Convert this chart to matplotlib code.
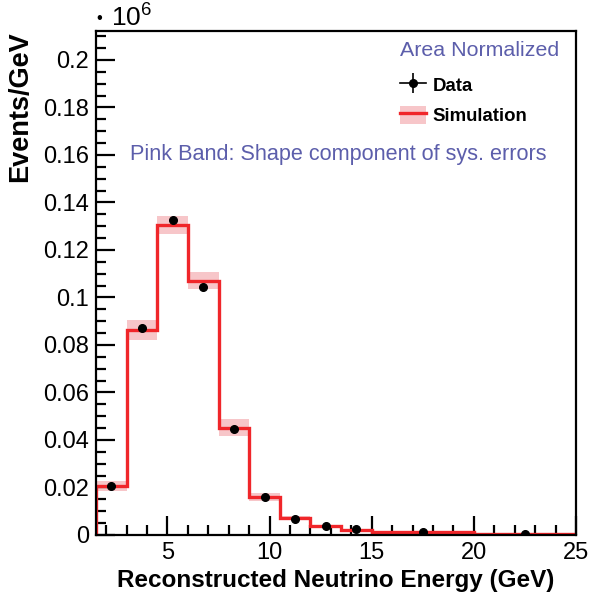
#! /usr/bin/env python

# Reconstructed neutrino energy, data vs simulation (area normalized)

import numpy as np
import matplotlib
matplotlib.use('Agg')
import matplotlib.pyplot as plt
from matplotlib.ticker import MultipleLocator, FuncFormatter
from matplotlib.lines import Line2D
from matplotlib.patches import Patch

plt.rcParams['font.family'] = ['Liberation Sans', 'DejaVu Sans']
plt.rcParams['mathtext.default'] = 'regular'

# Data (units of 10^6 events/GeV)
bin_edges = [1.5, 3, 4.5, 6, 7.5, 9, 10.5, 12, 13.5, 15, 20, 25]
sim_values = [0.0206, 0.0863, 0.1305, 0.1071, 0.0452, 0.0159, 0.0071, 0.0036, 0.0023, 0.0013, 0.0006]
sim_sys_err = [0.0022, 0.0044, 0.0036, 0.0037, 0.0036, 0.0016, 0.0008, 0.0005, 0.0003, 0.0002, 0.0001]
data_values = [0.0208, 0.0872, 0.1328, 0.1045, 0.0446, 0.0160, 0.0069, 0.0039, 0.0024, 0.0011, 0.0004]

edges = np.array(bin_edges)
centers = 0.5 * (edges[:-1] + edges[1:])
widths = np.diff(edges)
sim = np.array(sim_values)
err = np.array(sim_sys_err)

red = '#f0262a'
pink = '#f7c6c9'
blue_txt = '#5c5eab'

fig = plt.figure(figsize=(5.9, 6.03), dpi=100)
ax = fig.add_axes([0.1627, 0.1128, 0.8136, 0.8358])

# shape systematic band
ax.bar(centers, 2 * err, bottom=sim - err, width=widths, color=pink, linewidth=0, zorder=1)
# simulation histogram
ax.stairs(sim, edges, baseline=0, color=red, linewidth=2.4, zorder=2)
# data points
ax.plot(centers, data_values, 'o', color='black', markersize=5.5, zorder=3)

ax.set_xlim(1.5, 25)
ax.set_ylim(0, 0.2122)

ax.xaxis.set_major_locator(MultipleLocator(5))
ax.xaxis.set_minor_locator(MultipleLocator(1))
ax.yaxis.set_major_locator(MultipleLocator(0.02))
ax.yaxis.set_minor_locator(MultipleLocator(0.005))
ax.yaxis.set_major_formatter(FuncFormatter(lambda v, p: '%g' % round(v, 3)))
ax.tick_params(which='both', direction='in', top=False, right=False, width=1.6, labelsize=17)
ax.tick_params(which='major', length=14, pad=5)
ax.tick_params(which='minor', length=7)
for s in ax.spines.values():
    s.set_linewidth(1.6)

ax.set_xlabel('Reconstructed Neutrino Energy (GeV)', fontsize=17.5, fontweight='bold', labelpad=4)
ax.set_ylabel('Events/GeV', fontsize=19.5, fontweight='bold', loc='top', labelpad=7)

# ROOT-style exponent label
fig.text(0.163, 0.969, u'\u2022', fontsize=12, ha='left', va='center')
fig.text(0.188, 0.970, r'$10^{6}$', fontsize=19, ha='left', va='center')

ax.text(0.965, 0.961, 'Area Normalized', transform=ax.transAxes, fontsize=15.4,
        color=blue_txt, ha='right', va='center')
ax.text(0.0708, 0.754, 'Pink Band: Shape component of sys. errors', transform=ax.transAxes,
        fontsize=15.6, color=blue_txt, ha='left', va='center')

handles = [
    (Line2D([], [], color='black', linewidth=1.2),
     Line2D([], [], color='black', marker='|', markersize=14, markeredgewidth=1.2, linestyle='none'),
     Line2D([], [], color='black', marker='o', markersize=5.5, linestyle='none')),
    (Patch(facecolor=pink, linewidth=0), Line2D([], [], color=red, linewidth=2.4)),
]
leg = ax.legend(handles, ['Data', 'Simulation'], loc='upper left',
                bbox_to_anchor=(0.633, 0.912), frameon=False, borderpad=0, borderaxespad=0,
                handlelength=1.4, handleheight=1.1, labelspacing=0.6, handletextpad=0.35,
                prop={'weight': 'bold', 'size': 13.4})

fig.savefig('out.png', dpi=100)
